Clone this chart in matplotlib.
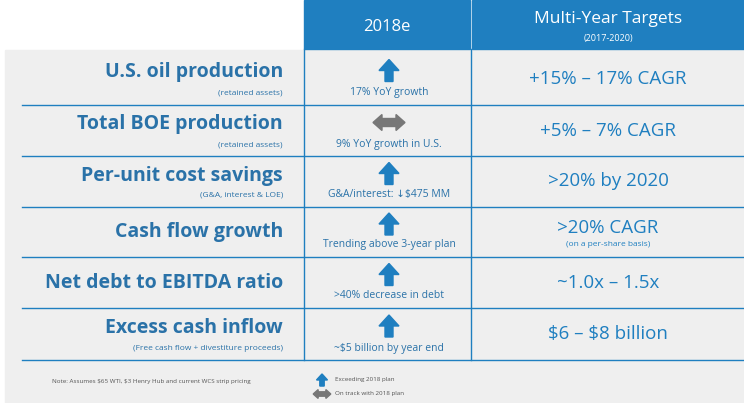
import matplotlib
matplotlib.use("Agg")
import matplotlib.pyplot as plt
from matplotlib.patches import Rectangle, Polygon

metrics = ["U.S. oil production", "Total BOE production", "Per-unit cost savings",
           "Cash flow growth", "Net debt to EBITDA ratio", "Excess cash inflow"]
subs = ["(retained assets)", "(retained assets)", "(G&A, interest & LOE)", "", "",
        "(Free cash flow + divestiture proceeds)"]
status = ["up", "flat", "up", "up", "up", "up"]
notes2018 = ["17% YoY growth", "9% YoY growth in U.S.", "G&A/interest: \u2193$475 MM",
             "Trending above 3-year plan", ">40% decrease in debt", "~$5 billion by year end"]
targets = ["+15% \u2013 17% CAGR", "+5% \u2013 7% CAGR", ">20% by 2020", ">20% CAGR",
           "~1.0x \u2013 1.5x", "$6 \u2013 $8 billion"]
target_subs = ["", "", "", "(on a per-share basis)", "", ""]

plt.rcParams['text.parse_math'] = False
plt.rcParams['font.family'] = ['Open Sans', 'DejaVu Sans']
W, H = 744, 403
fig = plt.figure(figsize=(W/100, H/100), dpi=100)
ax = fig.add_axes([0, 0, 1, 1])
ax.set_xlim(0, W); ax.set_ylim(H, 0); ax.axis("off")
BLUE = "#1f7fc0"; DARK = "#2a72a8"; GRAY = "#efefef"

ax.add_patch(Rectangle((5, 50), W-5, H-50, color=GRAY, zorder=0))
ax.add_patch(Rectangle((304, 0), 166, 49, color=BLUE))
ax.add_patch(Rectangle((472, 0), 272, 49, color=BLUE))
ax.text(387, 27, "2018e", color="white", ha="center", va="center", fontsize=12)
ax.text(608, 19, "Multi-Year Targets", color="white", ha="center", va="center", fontsize=12.5)
ax.text(608, 39, "(2017-2020)", color="white", ha="center", va="center", fontsize=6.5)

bounds = [52, 105, 156, 207, 257, 308, 360]
ax.plot([304, 304], [49, 360], color=BLUE, lw=1)
ax.plot([471, 471], [49, 360], color=BLUE, lw=1)
for y in bounds[1:]:
    ax.plot([22, W], [y, y], color=BLUE, lw=1)

def arrow(x, y, kind, s=1.0):
    if kind == "up":
        pts = [(x-4*s, y+11*s), (x+4*s, y+11*s), (x+4*s, y), (x+10*s, y),
               (x, y-11*s), (x-10*s, y), (x-4*s, y)]
        ax.add_patch(Polygon(pts, closed=True, color=BLUE))
    else:
        pts = [(x-16*s, y), (x-7*s, y-8*s), (x-7*s, y-4*s), (x+7*s, y-4*s), (x+7*s, y-8*s),
               (x+16*s, y), (x+7*s, y+8*s), (x+7*s, y+4*s), (x-7*s, y+4*s), (x-7*s, y+8*s)]
        ax.add_patch(Polygon(pts, closed=True, color="#777777"))

for i in range(6):
    top, bot = bounds[i], bounds[i+1]
    mid = (top + bot) / 2
    if subs[i]:
        ax.text(283, mid-6, metrics[i], ha="right", va="center", color=DARK, fontsize=14, fontweight="bold")
        ax.text(283, mid+14, subs[i], ha="right", va="center", color=DARK, fontsize=6)
    else:
        ax.text(283, mid, metrics[i], ha="right", va="center", color=DARK, fontsize=14, fontweight="bold")
    arrow(389, mid-8, status[i])
    ax.text(389, bot-12, notes2018[i], ha="center", va="center", color=DARK, fontsize=7.5)
    if target_subs[i]:
        ax.text(608, mid-4, targets[i], ha="center", va="center", color=BLUE, fontsize=13.5)
        ax.text(608, mid+13, target_subs[i], ha="center", va="center", color=BLUE, fontsize=6)
    else:
        ax.text(608, mid, targets[i], ha="center", va="center", color=BLUE, fontsize=13.5)

ax.text(52, 381, "Note: Assumes $65 WTI, $3 Henry Hub and current WCS strip pricing",
        ha="left", va="center", color="#555555", fontsize=4.5)
arrow(322, 380, "up", 0.55)
ax.text(335, 380, "Exceeding 2018 plan", ha="left", va="center", color="#555555", fontsize=4.5)
arrow(322, 394, "flat", 0.55)
ax.text(335, 394, "On track with 2018 plan", ha="left", va="center", color="#555555", fontsize=4.5)

fig.savefig("out.png", dpi=100)
